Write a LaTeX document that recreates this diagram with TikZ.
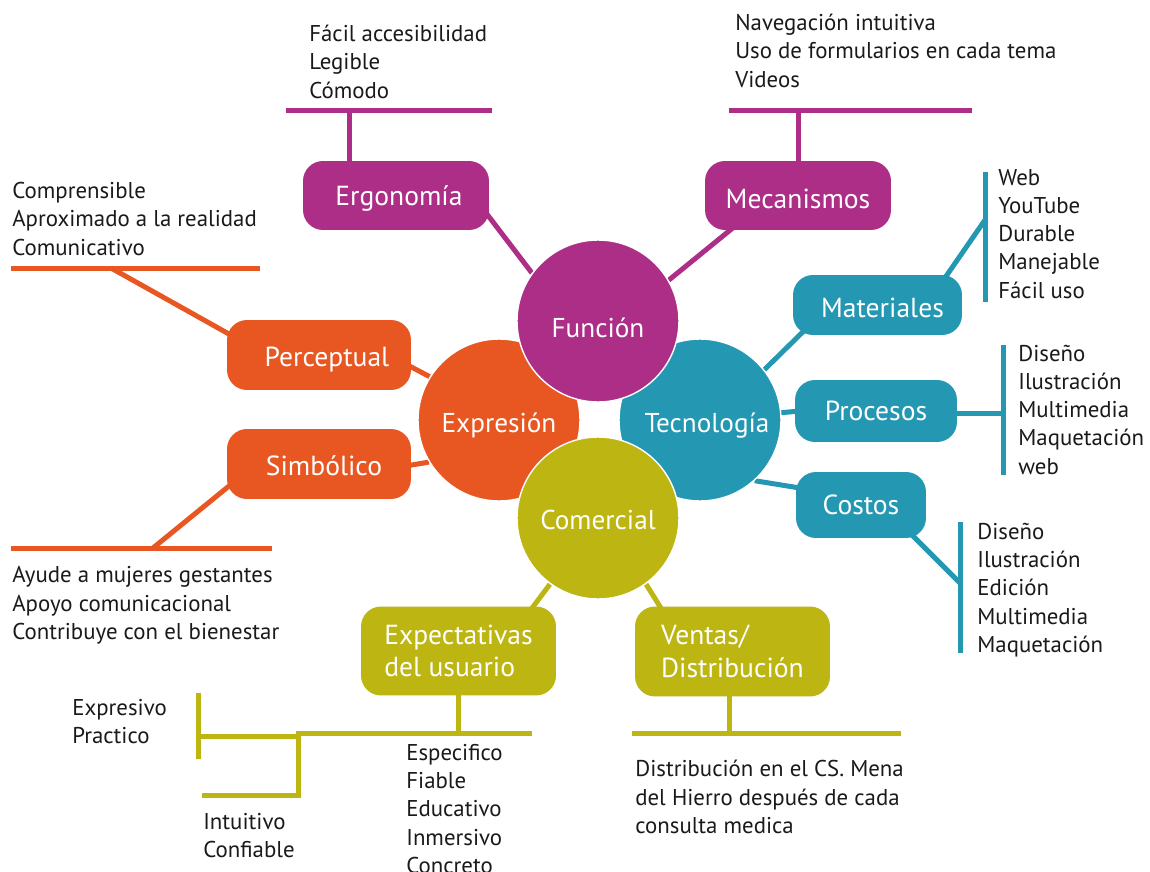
\documentclass[tikz,border=0pt]{standalone}
\usepackage{fontspec}
\setmainfont{PT Sans}
\usetikzlibrary{backgrounds}
\definecolor{cmag}{HTML}{AC2E86}
\definecolor{corg}{HTML}{E85722}
\definecolor{cteal}{HTML}{2497B2}
\definecolor{coli}{HTML}{BCB512}
\definecolor{ctxt}{HTML}{1A1A1A}
\newcommand\mvlbl[3]{\raisebox{#2}[\height][\depth]{\hspace*{#1}#3}}
\begin{document}
\begin{tikzpicture}[x=0.02cm,y=-0.02cm,
  circ/.style={circle,minimum size=3.24cm,inner sep=0pt,draw=white,line width=0.8pt,text=white,font=\fontsize{15.5}{18}\selectfont},
  rbox/.style={rounded corners=0.4cm,inner sep=0pt,text=white,align=left,font=\fontsize{15.7}{18.6}\selectfont},
  txt/.style={anchor=base west,align=left,inner sep=0pt,text=ctxt,font=\fontsize{13}{15.94}\selectfont},
  ln/.style={line width=0.1cm}]
\useasboundingbox (0,0) rectangle (1150,872);
\clip (0,0) rectangle (1150,872);

% circles
\node[circ,fill=corg] (cexp) at (499,420) {\mvlbl{0cm}{-2.8pt}{Expresión}};
\node[circ,fill=cteal] (ctec) at (700,420) {\mvlbl{0.28cm}{-3.4pt}{Tecnología}};
\node[circ,fill=cmag] (cfun) at (598,321) {\mvlbl{0cm}{-4pt}{Función}};
\node[circ,fill=coli] (ccom) at (598,518) {\mvlbl{0cm}{-1.1pt}{Comercial}};

% boxes
\node[rbox,fill=cmag,minimum width=3.72cm,minimum height=1.38cm] (berg) at (396,195.5) {\mvlbl{0.12cm}{-1.7pt}{Ergonomía}};
\node[rbox,fill=cmag,minimum width=3.72cm,minimum height=1.38cm] (bmec) at (798,195.5) {\mvlbl{0cm}{-1.7pt}{Mecanismos}};
\node[rbox,fill=corg,minimum width=3.68cm,minimum height=1.40cm] (bper) at (319,355) {\mvlbl{0.32cm}{-2.8pt}{Perceptual}};
\node[rbox,fill=corg,minimum width=3.68cm,minimum height=1.40cm] (bsim) at (319,464) {\mvlbl{0.2cm}{-1.1pt}{Simbólico}};
\node[rbox,fill=cteal,minimum width=3.38cm,minimum height=1.20cm] (bmat) at (877.5,305) {\mvlbl{0.2cm}{-1.7pt}{Materiales}};
\node[rbox,fill=cteal,minimum width=3.24cm,minimum height=1.24cm] (bpro) at (876,411) {Procesos};
\node[rbox,fill=cteal,minimum width=2.60cm,minimum height=1.32cm] (bcos) at (861,505) {Costos};
\node[rbox,fill=coli,minimum width=3.90cm,minimum height=1.78cm] (bexp) at (458.5,651) {Expectativas\\del usuario};
\node[rbox,fill=coli,minimum width=3.90cm,minimum height=1.80cm] (bven) at (732.5,651.5) {Ventas/\\Distribución};

% bar coordinates
\coordinate (ergL) at (286,110); \coordinate (ergR) at (492,110);
\coordinate (mecL) at (729,110); \coordinate (mecR) at (972,110);
\coordinate (perL) at (11,268); \coordinate (perR) at (260,268); \coordinate (perJ) at (111,268);
\coordinate (simL) at (11,548); \coordinate (simR) at (272,548); \coordinate (simJ) at (153,548);
\coordinate (matT) at (985,172); \coordinate (matB) at (985,302); \coordinate (matJ) at (985,220);
\coordinate (proT) at (1003,345); \coordinate (proB) at (1003,475); \coordinate (proJ) at (1003,413);
\coordinate (cosT) at (960,522); \coordinate (cosB) at (960,653); \coordinate (cosJ) at (960,583);
\coordinate (expR) at (532,733); \coordinate (expM) at (298,733); \coordinate (expK) at (298,736);
\coordinate (expV1) at (198,693); \coordinate (expV2) at (198,759); \coordinate (expK2) at (198,736);
\coordinate (expD) at (298,795); \coordinate (expDL) at (202,795);
\coordinate (venL) at (632,733); \coordinate (venR) at (901,733);

\begin{scope}[on background layer]
\fill[white] (0,0) rectangle (1150,872);
% magenta
\draw[ln,cmag] (cfun.144) -- ([shift={(84,9.5)}]berg.center);
\draw[ln,cmag] (cfun.30) -- ([shift={(-53,22.5)}]bmec.center);
\draw[ln,cmag] (ergL) -- (ergR);
\draw[ln,cmag] ([shift={(-47,0)}]berg.center) -- ([shift={(-47,0)}]berg.center |- ergL);
\draw[ln,cmag] (mecL) -- (mecR);
\draw[ln,cmag] (bmec.center) -- (bmec.center |- mecL);
% orange
\draw[ln,corg] (cexp.148) -- ([shift={(81,6)}]bper.center);
\draw[ln,corg] (cexp.211) -- ([shift={(81,3)}]bsim.center);
\draw[ln,corg] (perL) -- (perR);
\draw[ln,corg] (perJ) -- ([shift={(-74,-12)}]bper.center);
\draw[ln,corg] (simL) -- (simR);
\draw[ln,corg] (simJ) -- ([shift={(-74,9)}]bsim.center);
% teal
\draw[ln,cteal] (ctec.38) -- ([shift={(-59.5,12)}]bmat.center);
\draw[ln,cteal] (ctec.center) -- ([shift={(-76,0)}]bpro.center);
\draw[ln,cteal] (ctec.-48) -- ([shift={(-55,-16)}]bcos.center);
\draw[ln,cteal] (matT) -- (matB);
\draw[ln,cteal] (matJ) -- ([shift={(62.5,-20)}]bmat.center);
\draw[ln,cteal] (proT) -- (proB);
\draw[ln,cteal] (proJ) -- ([shift={(70,2)}]bpro.center);
\draw[ln,cteal] (cosT) -- (cosB);
\draw[ln,cteal] (cosJ) -- ([shift={(44,23)}]bcos.center);
% olive
\draw[ln,coli] (ccom.234) -- ([shift={(66.5,-33.5)}]bexp.center);
\draw[ln,coli] (ccom.-54) -- ([shift={(-64.5,-32)}]bven.center);
\draw[ln,coli] (bexp.center) -- (bexp.center |- expR);
\draw[ln,coli] (expR) -- (expM) -- (expD) -- (expDL);
\draw[ln,coli] (expV1) -- (expV2);
\draw[ln,coli] (expK2) -- (expK);
\draw[ln,coli] ([shift={(-3.5,0)}]bven.center) -- ([shift={(-3.5,0)}]bven.center |- venL);
\draw[ln,coli] (venL) -- (venR);
\end{scope}

% texts (anchored at the baseline of the last line)
\node[txt] (t1) at (309,98) {Fácil accesibilidad\\Legible\\Cómodo};
\node[txt] (t2) at (735,87) {Navegación intuitiva\\Uso de formularios en cada tema\\Videos};
\node[txt] (t3) at (12,255) {Comprensible\\Aproximado a la realidad\\Comunicativo};
\node[txt] (t4) at (12,639) {Ayude a mujeres gestantes\\Apoyo comunicacional\\Contribuye con el bienestar};
\node[txt] (t5) at (998,298) {Web\\YouTube\\Durable\\Manejable\\Fácil uso};
\node[txt] (t6) at (1018,474) {Diseño\\Ilustración\\Multimedia\\Maquetación\\web};
\node[txt] (t7) at (977,652) {Diseño\\Ilustración\\Edición\\Multimedia\\Maquetación};
\node[txt] (t8) at (72,743) {Expresivo\\Practico};
\node[txt] (t9) at (203,857) {Intuitivo\\Confiable};
\node[txt] (t10) at (406,873) {Especifico\\Fiable\\Educativo\\Inmersivo\\Concreto};
\node[txt] (t11) at (635,833) {Distribución en el CS. Mena\\del Hierro después de cada\\consulta medica};
\end{tikzpicture}
\end{document}
